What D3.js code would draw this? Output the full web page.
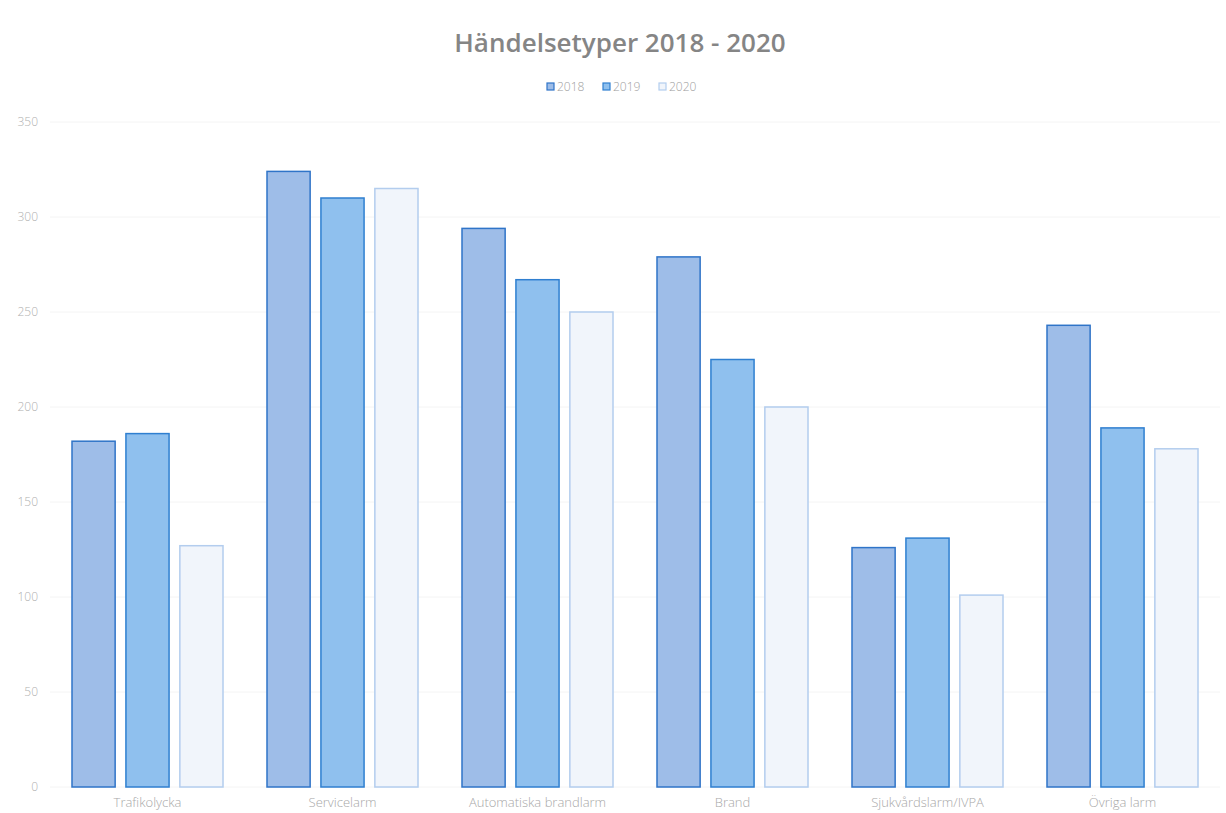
<!DOCTYPE html>
<html>
<head>
<meta charset="utf-8">
<script src="https://cdn.jsdelivr.net/npm/d3@7"></script>
<style>
  body { margin: 0; background: #fff; }
  text { font-family: "Open Sans", "Noto Sans", sans-serif; }
</style>
</head>
<body>
<svg id="chart" width="1226" height="813"></svg>
<script>
// categories and series
var categories = ["Trafikolycka", "Servicelarm", "Automatiska brandlarm", "Brand", "Sjukvårdslarm/IVPA", "Övriga larm"];
var years = ["2018", "2019", "2020"];
var values2018 = [182, 324, 294, 279, 126, 243];
var values2019 = [186, 310, 267, 225, 131, 189];
var values2020 = [127, 315, 250, 200, 101, 178];
var yTicks = [0, 50, 100, 150, 200, 250, 300, 350];

var series = [values2018, values2019, values2020];
var fills = ["#9ebde8", "#8fc0ee", "#f1f5fb"];
var strokes = ["#2f74c8", "#2f7fd0", "#b3cdee"];

var margin = {top: 122, right: 6, bottom: 26, left: 50};
var width = 1226, height = 813;

var svg = d3.select("#chart");

var x = d3.scaleBand()
    .domain(categories)
    .range([margin.left, width - margin.right])
    .paddingInner(0)
    .paddingOuter(0);

var xInner = d3.scaleBand()
    .domain(years)
    .range([22, x.bandwidth() - 22])
    .paddingInner(0.2);

var y = d3.scaleLinear()
    .domain([0, 350])
    .range([height - margin.bottom, margin.top]);

// faint gridlines
svg.append("g")
    .selectAll("line")
    .data(yTicks)
    .enter()
    .append("line")
    .attr("x1", margin.left)
    .attr("x2", width - margin.right)
    .attr("y1", d => y(d))
    .attr("y2", d => y(d))
    .style("stroke", "#f4f4f4")
    .style("stroke-width", 1);

// y tick labels
svg.append("g")
    .selectAll("text")
    .data(yTicks)
    .enter()
    .append("text")
    .attr("x", 38)
    .attr("y", d => y(d))
    .attr("dy", 4)
    .attr("text-anchor", "end")
    .style("font-size", "12px")
    .style("font-weight", "300")
    .style("fill", "#b0b0b0")
    .text(d => d);

// bars
var groups = svg.append("g")
    .selectAll("g")
    .data(categories)
    .enter()
    .append("g")
    .attr("transform", d => "translate(" + x(d) + ",0)");

groups.selectAll("rect")
    .data(function(d, i) { return years.map((yr, j) => ({year: yr, j: j, v: series[j][i]})); })
    .enter()
    .append("rect")
    .attr("x", d => xInner(d.year))
    .attr("y", d => y(d.v))
    .attr("width", xInner.bandwidth())
    .attr("height", d => y(0) - y(d.v))
    .style("fill", d => fills[d.j])
    .style("stroke", d => strokes[d.j])
    .style("stroke-width", 1.5);

// x labels
svg.append("g")
    .selectAll("text")
    .data(categories)
    .enter()
    .append("text")
    .attr("x", d => x(d) + x.bandwidth() / 2)
    .attr("y", 807)
    .attr("text-anchor", "middle")
    .style("font-size", "13px")
    .style("font-weight", "300")
    .style("fill", "#a8a8a8")
    .text(d => d);

// title
svg.append("text")
    .attr("x", 620)
    .attr("y", 52)
    .attr("text-anchor", "middle")
    .style("font-size", "26px")
    .style("font-weight", "600")
    .style("fill", "#858585")
    .text("Händelsetyper 2018 - 2020");

// legend
var legend = svg.append("g")
    .attr("transform", "translate(547,88)");

var legendItems = legend.selectAll("g")
    .data(years)
    .enter()
    .append("g")
    .attr("transform", (d, i) => "translate(" + (i * 56) + ",0)");

legendItems.append("rect")
    .attr("x", 0)
    .attr("y", -5)
    .attr("width", 7)
    .attr("height", 7)
    .style("fill", (d, i) => fills[i])
    .style("stroke", (d, i) => strokes[i])
    .style("stroke-width", 1.2);

legendItems.append("text")
    .attr("x", 10)
    .attr("y", 3)
    .style("font-size", "12px")
    .style("font-weight", "300")
    .style("fill", "#a0a0a0")
    .text(d => d);
</script>
</body>
</html>
